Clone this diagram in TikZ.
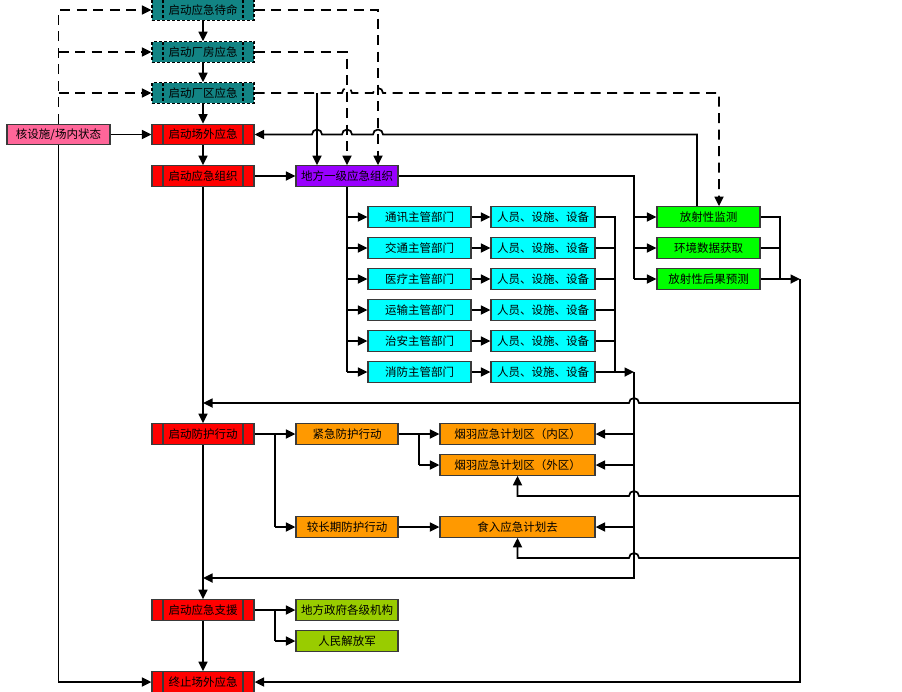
\documentclass[tikz,border=0pt]{standalone}
\usepackage{fontspec}
\newfontfamily\cjk{Noto Sans CJK SC}
\usetikzlibrary{arrows.meta}
\definecolor{tealc}{HTML}{128484}
\definecolor{pinkc}{HTML}{FF6699}
\definecolor{redc}{HTML}{FF0000}
\definecolor{purplec}{HTML}{9900FF}
\definecolor{cyanc}{HTML}{00FFFF}
\definecolor{greenc}{HTML}{00FF00}
\definecolor{orangec}{HTML}{FF9900}
\definecolor{ygc}{HTML}{99CC00}
\definecolor{edgec}{HTML}{3A3A3A}
\tikzset{
  box/.style={draw=edgec, line width=1.3pt, rectangle, minimum width=102pt, minimum height=20.5pt, inner sep=0pt,
    font=\cjk\fontsize{11.5}{13}\selectfont, text=black},
  sidebars/.style={path picture={
    \draw[line width=1.3pt,#1] ([xshift=11pt]path picture bounding box.north west) -- ([xshift=11pt]path picture bounding box.south west);
    \draw[line width=1.3pt,#1] ([xshift=-11pt]path picture bounding box.north east) -- ([xshift=-11pt]path picture bounding box.south east);}},
  sidebars/.default={},
  tealbox/.style={box, fill=tealc, draw=black, dash pattern=on 3pt off 2pt, sidebars={dash pattern=on 3pt off 2pt}},
  redbox/.style={box, fill=redc, draw=edgec, sidebars},
  pinkbox/.style={box, fill=pinkc, minimum width=103pt},
  purplebox/.style={box, fill=purplec},
  cyanbox/.style={box, fill=cyanc, minimum width=103pt},
  greenbox/.style={box, fill=greenc, minimum width=103pt},
  orangebox/.style={box, fill=orangec},
  widebox/.style={box, fill=orangec, minimum width=155pt},
  ygbox/.style={box, fill=ygc},
  conn/.style={line width=1.7pt, black},
  arr/.style={conn, -{Triangle[length=9.5pt,width=9pt]}},
  dashline/.style={dash pattern=on 10pt off 6.5pt},
}
\begin{document}
\begin{tikzpicture}[x=1pt,y=-1pt]
\useasboundingbox (0,0) rectangle (902,691);
% main column
\node[tealbox] (wait) at (203,10) {启动应急待命};
\node[tealbox] (plant) at (203,52) {启动厂房应急};
\node[tealbox] (site) at (203,93) {启动厂区应急};
\node[redbox] (off) at (203,134.5) {启动场外应急};
\node[redbox] (org) at (203,176) {启动应急组织};
\node[redbox] (prot) at (203,434) {启动防护行动};
\node[redbox] (supp) at (203,610) {启动应急支援};
\node[redbox] (term) at (203,682) {终止场外应急};
\node[pinkbox] (state) at (58.5,134.5) {核设施/场内状态};
\node[purplebox] (local) at (347,176) {地方一级应急组织};
% cyan
\node[cyanbox] (d1) at (419.5,217) {通讯主管部门};
\node[cyanbox] (d2) at (419.5,248) {交通主管部门};
\node[cyanbox] (d3) at (419.5,279) {医疗主管部门};
\node[cyanbox] (d4) at (419.5,310) {运输主管部门};
\node[cyanbox] (d5) at (419.5,341) {治安主管部门};
\node[cyanbox] (d6) at (419.5,372) {消防主管部门};
\foreach \i/\y in {1/217,2/248,3/279,4/310,5/341,6/372}{
  \node[cyanbox, minimum width=104pt] (r\i) at (543,\y) {人员、设施、设备};
}
% green
\node[greenbox] (mon) at (708.5,217) {放射性监测};
\node[greenbox] (env) at (708.5,248) {环境数据获取};
\node[greenbox] (pred) at (708.5,279) {放射性后果预测};
% orange
\node[orangebox] (emerg) at (347,434) {紧急防护行动};
\node[orangebox] (longp) at (347,527) {较长期防护行动};
\node[widebox] (inner) at (517.5,434) {烟羽应急计划区（内区）};
\node[widebox] (outer) at (517.5,465) {烟羽应急计划区（外区）};
\node[widebox] (ingest) at (517.5,527) {食入应急计划去};
% yellow-green
\node[ygbox] (gov) at (347,610) {地方政府各级机构};
\node[ygbox] (pla) at (347,641) {人民解放军};

% main vertical chain
\draw[arr] (wait.south) -- (plant.north);
\draw[arr] (plant.south) -- (site.north);
\draw[arr] (site.south) -- (off.north);
\draw[arr] (off.south) -- (org.north);
\draw[arr] (org.south) -- (prot.north);
\draw[arr] (prot.south) -- (supp.north);
\draw[arr] (supp.south) -- (term.north);
\draw[arr] (org.east) -- (local.west);
\draw[arr] (state.east) -- (off.west);

% left dashed bus
\draw[arr, dashline] (state.north) |- (wait.west);
\draw[arr, dashline] (58.5,52) -- (plant.west);
\draw[arr, dashline] (58.5,93) -- (site.west);
\draw[arr] (state.south) |- (term.west);

% right dashed lines from teal boxes
\draw[arr, dashline] (wait.east) -| ([xshift=31pt]local.north);
\draw[arr, dashline] (plant.east) -| (local.north);
\draw[arr, dashline] (site.east) -- (342,93) arc[start angle=180,end angle=0,radius=5pt]
  -- (373,93) arc[start angle=180,end angle=0,radius=5pt] -- (719,93) -- ([xshift=10.5pt]mon.north);
\draw[arr] (317,93) -- ([xshift=-30pt]local.north);

% feedback from monitoring to off-site emergency
\draw[arr] ([xshift=-11.5pt]mon.north) -- (697,134.5) -- (383,134.5)
  arc[start angle=0,end angle=180,radius=5pt] -- (352,134.5)
  arc[start angle=0,end angle=180,radius=5pt] -- (322,134.5)
  arc[start angle=0,end angle=180,radius=5pt] -- (off.east);

% local org to green boxes
\draw[conn] (local.east) -| (634,279);
\draw[arr] (634,217) -- (mon.west);
\draw[arr] (634,248) -- (env.west);
\draw[arr] (634,279) -- (pred.west);
% green outputs
\draw[conn] (mon.east) -| (780,279);
\draw[conn] (env.east) -- (780,248);
\draw[arr] (pred.east) -- (800,279);
\draw[arr] (800,279) |- (term.east);
\draw[arr] (800,403) -- (639,403) arc[start angle=0,end angle=180,radius=5pt] -- (203,403);
\draw[arr] (800,496) -- (639,496) arc[start angle=0,end angle=180,radius=5pt] -- (517.5,496) -- (outer.south);
\draw[arr] (800,558) -- (639,558) arc[start angle=0,end angle=180,radius=5pt] -- (517.5,558) -- (ingest.south);

% cyan departments
\draw[conn] (local.south) -- (347,372);
\foreach \i/\y in {1/217,2/248,3/279,4/310,5/341,6/372}{
  \draw[arr] (347,\y) -- (d\i.west);
  \draw[arr] (d\i.east) -- (r\i.west);
}
\draw[conn] (r1.east) -| (615,372);
\foreach \i/\y in {2/248,3/279,4/310,5/341}{
  \draw[conn] (r\i.east) -- (615,\y);
}
\draw[arr] (r6.east) -- (634,372);
\draw[arr] (634,372) -- (634,578) -- (203,578);
\draw[arr] (634,434) -- (inner.east);
\draw[arr] (634,465) -- (outer.east);
\draw[arr] (634,527) -- (ingest.east);

% protective actions
\draw[conn] (prot.east) -| (275,527);
\draw[arr] (275,434) -- (emerg.west);
\draw[arr] (275,527) -- (longp.west);
\draw[conn] (emerg.east) -| (419,465);
\draw[arr] (419,434) -- (inner.west);
\draw[arr] (419,465) -- (outer.west);
\draw[arr] (longp.east) -- (ingest.west);

% support
\draw[conn] (supp.east) -| (275,641);
\draw[arr] (275,610) -- (gov.west);
\draw[arr] (275,641) -- (pla.west);
\end{tikzpicture}
\end{document}
